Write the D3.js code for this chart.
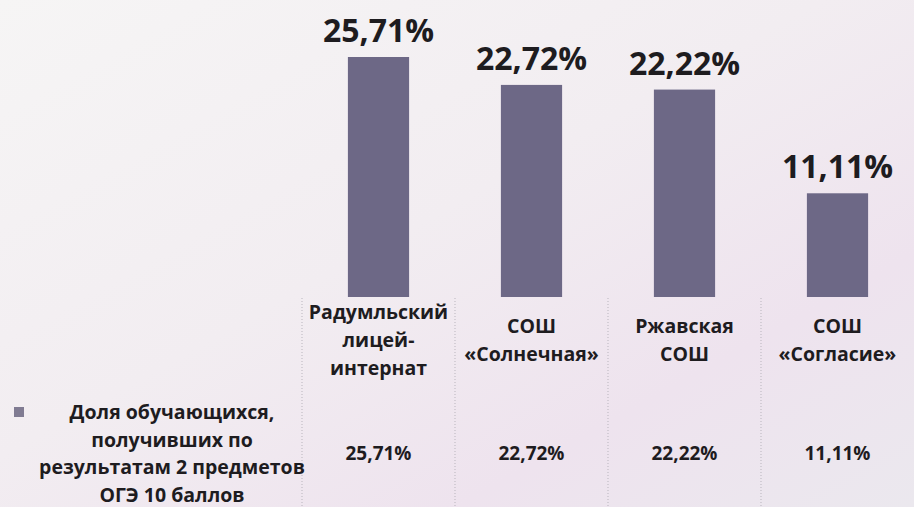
<!DOCTYPE html>
<html>
<head>
<meta charset="utf-8">
<script src="https://cdn.jsdelivr.net/npm/d3@7"></script>
<style>
  html, body { margin: 0; padding: 0; background: #f3f1f2; }
  svg { display: block; font-family: "Open Sans", "Noto Sans", sans-serif; }
</style>
</head>
<body>
<div id="chart"></div>
<script>
// data
const categories = [
    ["Радумльский", "лицей-", "интернат"],
    ["СОШ", "«Солнечная»"],
    ["Ржавская", "СОШ"],
    ["СОШ", "«Согласие»"]
];
const values = [25.71, 22.72, 22.22, 11.11];
const valueLabels = ["25,71%", "22,72%", "22,22%", "11,11%"];
const seriesName = ["Доля обучающихся,", "получивших по", "результатам 2 предметов", "ОГЭ 10 баллов"];

const width = 914, height = 507;
const barColor = "#6d6886";

let svg = d3.select("#chart")
    .append("svg")
    .attr("width", width)
    .attr("height", height);

// scanned paper look
let defs = svg.append("defs");
let grad = defs.append("linearGradient")
    .attr("id", "paper")
    .attr("x1", "0").attr("y1", "0")
    .attr("x2", "1").attr("y2", "1");
grad.append("stop").attr("offset", "0%").attr("stop-color", "#f6f5f5");
grad.append("stop").attr("offset", "45%").attr("stop-color", "#f2edf1");
grad.append("stop").attr("offset", "75%").attr("stop-color", "#eee3ee");
grad.append("stop").attr("offset", "100%").attr("stop-color", "#ebe8ee");

svg.append("rect")
    .attr("width", width)
    .attr("height", height)
    .attr("fill", "url(#paper)");

let x = d3.scaleBand()
    .domain(d3.range(categories.length))
    .range([302, 914])
    .padding(0);

let y = d3.scaleLinear()
    .domain([0, 25.71])
    .range([297, 57]);

let barW = x.bandwidth() * 0.4;

// table grid lines
svg.selectAll(".grid")
    .data(d3.range(categories.length))
    .enter()
    .append("line")
    .attr("class", "grid")
    .attr("x1", d => x(d))
    .attr("x2", d => x(d))
    .attr("y1", 298)
    .attr("y2", height)
    .attr("stroke", "#b9b5bd")
    .attr("stroke-width", 1)
    .attr("stroke-dasharray", "1,2");

// bars
svg.selectAll(".bar")
    .data(values)
    .enter()
    .append("rect")
    .attr("class", "bar")
    .attr("x", (d, i) => x(i) + (x.bandwidth() - barW) / 2)
    .attr("y", d => y(d))
    .attr("width", barW)
    .attr("height", d => y(0) - y(d))
    .attr("fill", barColor);

// value labels above bars
svg.selectAll(".vlabel")
    .data(values)
    .enter()
    .append("text")
    .attr("class", "vlabel")
    .attr("x", (d, i) => x(i) + x.bandwidth() / 2)
    .attr("y", d => y(d) - 15)
    .attr("text-anchor", "middle")
    .attr("font-size", 32)
    .attr("font-weight", "bold")
    .attr("fill", "#1e1c1f")
    .text((d, i) => valueLabels[i]);

// category labels (table header)
let lineH = 28;
categories.forEach(function(lines, i){
    let t = svg.append("text")
        .attr("text-anchor", "middle")
        .attr("font-size", 19.5)
        .attr("font-weight", "bold")
        .attr("fill", "#1e1c1f");
    lines.forEach(function(line, j){
        t.append("tspan")
            .attr("x", x(i) + x.bandwidth() / 2)
            .attr("y", 340 + (j - (lines.length - 1) / 2) * lineH + 7)
            .text(line);
    });
});

// table values row
svg.selectAll(".tval")
    .data(values)
    .enter()
    .append("text")
    .attr("class", "tval")
    .attr("x", (d, i) => x(i) + x.bandwidth() / 2)
    .attr("y", 460)
    .attr("text-anchor", "middle")
    .attr("font-size", 19)
    .attr("font-weight", "bold")
    .attr("fill", "#1e1c1f")
    .text((d, i) => valueLabels[i]);

// legend key + series name
svg.append("rect")
    .attr("x", 14)
    .attr("y", 407)
    .attr("width", 10)
    .attr("height", 10)
    .attr("fill", "#807b92");

let leg = svg.append("text")
    .attr("text-anchor", "middle")
    .attr("font-size", 19.5)
    .attr("font-weight", "bold")
    .attr("fill", "#1e1c1f");
seriesName.forEach(function(line, j){
    leg.append("tspan")
        .attr("x", 172)
        .attr("y", 419 + j * 27.7)
        .text(line);
});
</script>
</body>
</html>
